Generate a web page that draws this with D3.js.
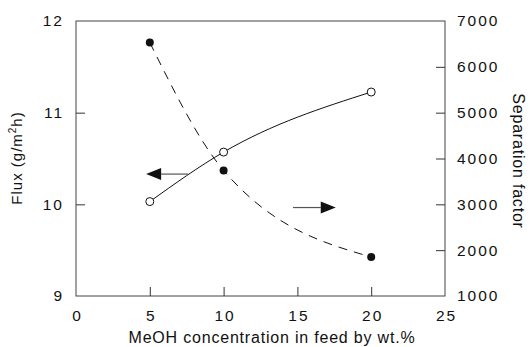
<!DOCTYPE html>
<html>
<head>
<meta charset="utf-8">
<script src="https://cdn.jsdelivr.net/npm/d3@7"></script>
<style>
body { margin: 0; background: #fff; }
text { font-family: "Liberation Sans", Arial, sans-serif; fill: #111; }
</style>
</head>
<body>
<svg id="chart" width="530" height="347"></svg>
<script>
// values
var meoh = [5, 10, 20];
var flux = [10.03, 10.57, 11.225];
var sepFactor = [6530, 3740, 1850];
var xTicks = [0, 5, 10, 15, 20, 25];
var fluxTicks = [9, 10, 11, 12];
var sepTicks = [1000, 2000, 3000, 4000, 5000, 6000, 7000];
// arrow annotations: [x from, x to, y value]
var fluxArrow = [7.6, 4.75, 10.33];
var sepArrow = [14.7, 17.6, 2930];

var svg = d3.select('#chart'),
    MARGINS = { top: 21, right: 85, bottom: 51, left: 76 },
    WIDTH = 530, HEIGHT = 347;

var x = d3.scaleLinear().domain([0, 25]).range([MARGINS.left, WIDTH - MARGINS.right]);
var yL = d3.scaleLinear().domain([9, 12]).range([HEIGHT - MARGINS.bottom, MARGINS.top]);
var yR = d3.scaleLinear().domain([1000, 7000]).range([HEIGHT - MARGINS.bottom, MARGINS.top]);

// frame
svg.append('rect')
  .attr('x', MARGINS.left).attr('y', MARGINS.top)
  .attr('width', WIDTH - MARGINS.right - MARGINS.left)
  .attr('height', HEIGHT - MARGINS.bottom - MARGINS.top)
  .attr('fill', 'none').attr('stroke', '#444').attr('stroke-width', 1);

function styleAxis(g) {
  g.select('.domain').remove();
  g.selectAll('.tick line').attr('stroke', '#333');
  g.selectAll('.tick text').attr('font-size', 15.5).attr('letter-spacing', 2).attr('fill', '#111')
    .style('font-family', '"Liberation Sans", Arial, sans-serif');
}
function dropEnds(lo, hi) {
  return function(g) {
    g.selectAll('.tick').filter(function(d) { return d === lo || d === hi; }).select('line').remove();
  };
}

svg.append('g')
  .attr('transform', 'translate(0,' + (HEIGHT - MARGINS.bottom) + ')')
  .call(d3.axisBottom(x).tickValues(xTicks).tickFormat(d3.format('d')).tickSizeInner(-9).tickSizeOuter(0).tickPadding(14))
  .call(styleAxis)
  .call(dropEnds(0, 25))
  .selectAll('.tick text').attr('dx', 1);

svg.append('g')
  .attr('transform', 'translate(' + MARGINS.left + ',0)')
  .call(d3.axisLeft(yL).tickValues(fluxTicks).tickFormat(d3.format('d')).tickSizeInner(-9).tickSizeOuter(0).tickPadding(12))
  .call(styleAxis)
  .call(dropEnds(9, 12));

svg.append('g')
  .attr('transform', 'translate(' + (WIDTH - MARGINS.right) + ',0)')
  .call(d3.axisRight(yR).tickValues(sepTicks).tickFormat(d3.format('d')).tickSizeInner(-9).tickSizeOuter(0).tickPadding(12))
  .call(styleAxis)
  .call(dropEnds(1000, 7000));

// curves
var fluxData = meoh.map(function(d, i) { return { x: d, y: flux[i] }; });
var sepData = meoh.map(function(d, i) { return { x: d, y: sepFactor[i] }; });

var fluxLine = d3.line().x(function(d) { return x(d.x); }).y(function(d) { return yL(d.y); }).curve(d3.curveMonotoneX);
var sepLine = d3.line().x(function(d) { return x(d.x); }).y(function(d) { return yR(d.y); }).curve(d3.curveMonotoneX);

svg.append('path').attr('d', fluxLine(fluxData))
  .attr('fill', 'none').attr('stroke', '#111').attr('stroke-width', 1);
svg.append('path').attr('d', sepLine(sepData))
  .attr('fill', 'none').attr('stroke', '#111').attr('stroke-width', 1)
  .attr('stroke-dasharray', '9,7');

svg.selectAll('.open').data(fluxData).enter().append('circle')
  .attr('cx', function(d) { return x(d.x); }).attr('cy', function(d) { return yL(d.y); })
  .attr('r', 4).attr('fill', '#fff').attr('stroke', '#111').attr('stroke-width', 1);
svg.selectAll('.filled').data(sepData).enter().append('circle')
  .attr('cx', function(d) { return x(d.x); }).attr('cy', function(d) { return yR(d.y); })
  .attr('r', 4).attr('fill', '#111');

// arrows
function arrow(x0, x1, yy) {
  var dir = x1 > x0 ? 1 : -1;
  var headLen = 15, half = 6;
  svg.append('line').attr('x1', x0).attr('x2', x1 - dir * headLen).attr('y1', yy).attr('y2', yy)
    .attr('stroke', '#555').attr('stroke-width', 1.2);
  svg.append('path')
    .attr('d', 'M' + x1 + ',' + yy + 'L' + (x1 - dir * headLen) + ',' + (yy - half) + 'L' + (x1 - dir * headLen) + ',' + (yy + half) + 'Z')
    .attr('fill', '#111');
}
arrow(x(fluxArrow[0]), x(fluxArrow[1]), yL(fluxArrow[2]));
arrow(x(sepArrow[0]), x(sepArrow[1]), yR(sepArrow[2]));

// axis titles
svg.append('text')
  .attr('transform', 'translate(22,158) rotate(-90)')
  .attr('text-anchor', 'middle').attr('font-size', 15).attr('letter-spacing', 1)
  .html('Flux (g/m<tspan dy="-6" font-size="10">2</tspan><tspan dy="6">h)</tspan>');

svg.append('text')
  .attr('transform', 'translate(513,161) rotate(90)')
  .attr('text-anchor', 'middle').attr('font-size', 16).attr('letter-spacing', 0.8)
  .text('Separation factor');

svg.append('text')
  .attr('x', 272).attr('y', 343)
  .attr('text-anchor', 'middle').attr('font-size', 16).attr('letter-spacing', 0.8)
  .text('MeOH concentration in feed by wt.%');
</script>
</body>
</html>
